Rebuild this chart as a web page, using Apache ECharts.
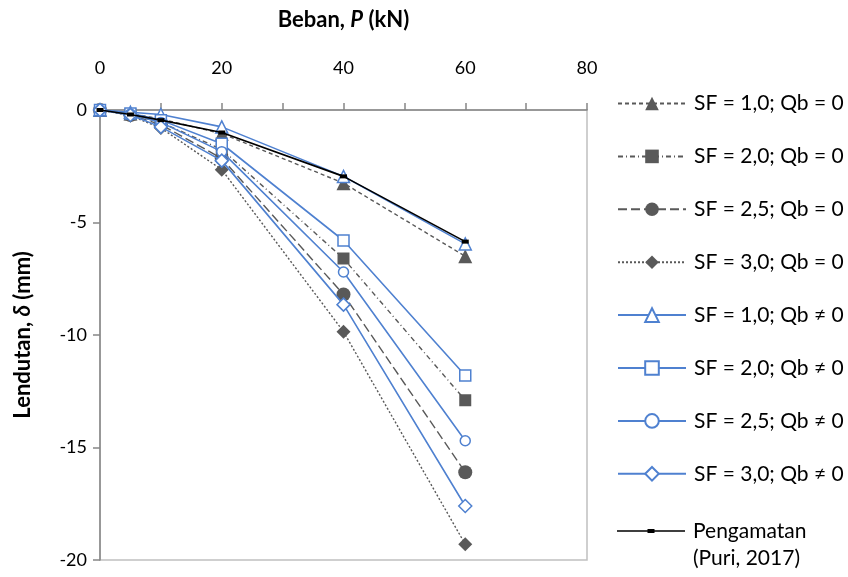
<!DOCTYPE html>
<html>
<head>
<meta charset="utf-8">
<script src="https://cdn.jsdelivr.net/npm/echarts@6/dist/echarts.min.js"></script>
<style>html,body{margin:0;padding:0;background:#fff}#c{width:848px;height:577px}</style>
</head>
<body>
<div id="c"></div>
<script>
const loads = [0, 5, 10, 20, 40, 60];
const sf10_qb0  = [0, -0.15, -0.40, -1.05, -3.25, -6.50];
const sf20_qb0  = [0, -0.20, -0.55, -1.75, -6.60, -12.90];
const sf25_qb0  = [0, -0.22, -0.65, -2.15, -8.20, -16.10];
const sf30_qb0  = [0, -0.25, -0.80, -2.65, -9.85, -19.30];
const sf10_qb   = [0, -0.10, -0.20, -0.75, -2.95, -5.95];
const sf20_qb   = [0, -0.15, -0.45, -1.50, -5.80, -11.80];
const sf25_qb   = [0, -0.18, -0.55, -1.85, -7.20, -14.70];
const sf30_qb   = [0, -0.22, -0.75, -2.25, -8.65, -17.60];
const observed  = [0, -0.20, -0.45, -1.00, -2.95, -5.85];
const xTicks = [0, 20, 40, 60, 80];
const yTicks = [0, -5, -10, -15, -20];
const names = [
  'SF = 1,0; Qb = 0', 'SF = 2,0; Qb = 0', 'SF = 2,5; Qb = 0', 'SF = 3,0; Qb = 0',
  'SF = 1,0; Qb ≠ 0', 'SF = 2,0; Qb ≠ 0', 'SF = 2,5; Qb ≠ 0', 'SF = 3,0; Qb ≠ 0',
  'Pengamatan\n(Puri, 2017)'
];

const FONT = 'Lato';
const GRAY = '#595959';
const BLUE = '#4f81d0';
const pair = v => loads.map((x, i) => [x, v[i]]);

function grayS(name, data, symbol, size, dash) {
  return {
    name, type: 'line', data: pair(data), symbol, symbolSize: size,
    itemStyle: { color: GRAY, borderWidth: 0 },
    lineStyle: { color: GRAY, width: 1.4, type: dash },
    emphasis: { disabled: true }, z: 2
  };
}
function blueS(name, data, symbol, size) {
  return {
    name, type: 'line', data: pair(data), symbol, symbolSize: size,
    itemStyle: { color: '#ffffff', borderColor: BLUE, borderWidth: 1.5 },
    lineStyle: { color: BLUE, width: 1.6, type: 'solid' },
    emphasis: { disabled: true }, z: 3
  };
}

const series = [
  grayS(names[0], sf10_qb0, 'triangle', 14, [4, 3]),
  grayS(names[1], sf20_qb0, 'rect', 12, [5, 3, 1, 3]),
  grayS(names[2], sf25_qb0, 'circle', 14, [9, 4]),
  grayS(names[3], sf30_qb0, 'diamond', 14, [2, 2]),
  blueS(names[4], sf10_qb, 'triangle', 12),
  blueS(names[5], sf20_qb, 'rect', 11),
  blueS(names[6], sf25_qb, 'circle', 10),
  blueS(names[7], sf30_qb, 'diamond', 13),
  {
    name: names[8], type: 'line', data: pair(observed), symbol: 'rect', symbolSize: [7, 4],
    itemStyle: { color: '#000' }, lineStyle: { color: '#000', width: 1.6 },
    emphasis: { disabled: true }, z: 4
  }
];

const chart = echarts.init(document.getElementById('c'), null, { renderer: 'canvas' });
const LH = 27;
const legendText = { fontSize: 21, color: '#000', fontFamily: FONT, padding: [0, 0, 0, 3], lineHeight: 20 };
chart.setOption({
  animation: false,
  textStyle: { fontFamily: FONT },
  grid: { left: 100, right: 261, top: 110, bottom: 17, show: true, borderColor: '#c0c0c0', borderWidth: 1.5, backgroundColor: 'transparent' },
  xAxis: {
    type: 'value', position: 'top', min: xTicks[0], max: xTicks[xTicks.length - 1], interval: 20,
    name: '{b|Beban, }{i|P}{b| (kN)}', nameLocation: 'middle', nameGap: 79,
    nameTextStyle: { rich: {
      b: { fontFamily: FONT, fontWeight: 'bold', fontSize: 22, color: '#000' },
      i: { fontFamily: FONT, fontWeight: 'bold', fontStyle: 'italic', fontSize: 22, color: '#000' }
    } },
    axisLine: { onZero: false, lineStyle: { color: '#868686', width: 1.5 } },
    axisTick: { show: true, length: 7, lineStyle: { color: '#868686', width: 1.5 } },
    minorTick: { show: true, splitNumber: 2, length: 7, lineStyle: { color: '#868686', width: 1.5 } },
    splitLine: { show: false },
    axisLabel: { color: '#000', fontSize: 18, margin: 33, fontFamily: FONT }
  },
  yAxis: {
    type: 'value', min: yTicks[yTicks.length - 1], max: yTicks[0], interval: 5,
    name: '{b|Lendutan, }{i|δ}{b| (mm)}', nameLocation: 'middle', nameGap: 66, nameRotate: 90,
    nameTextStyle: { rich: {
      b: { fontFamily: FONT, fontWeight: 'bold', fontSize: 22, color: '#000' },
      i: { fontFamily: FONT, fontWeight: 'bold', fontStyle: 'italic', fontSize: 22, color: '#000' }
    } },
    axisLine: { onZero: false, lineStyle: { color: '#868686', width: 1.5 } },
    axisTick: { show: true, length: 7, lineStyle: { color: '#868686', width: 1.5 } },
    splitLine: { show: false },
    axisLabel: { color: '#000', fontSize: 18, margin: 13, fontFamily: FONT }
  },
  legend: [{
    orient: 'vertical', left: 612, top: 88, height: 2000, itemWidth: 68, itemHeight: 17, itemGap: 31.9,
    textStyle: legendText,
    data: names.slice(0, 8),
    selectedMode: false
  }, {
    orient: 'vertical', left: 612, top: 485.5, height: 2000, itemWidth: 68, itemHeight: 17,
    textStyle: Object.assign({}, legendText, { lineHeight: LH }),
    formatter: '\n{name}',
    icon: 'path://M0,1.2L68,1.2L68,2.8L0,2.8Z M30.5,0L37.5,0L37.5,4L30.5,4Z',
    data: names.slice(8),
    selectedMode: false
  }],
  series
});
</script>
</body>
</html>
